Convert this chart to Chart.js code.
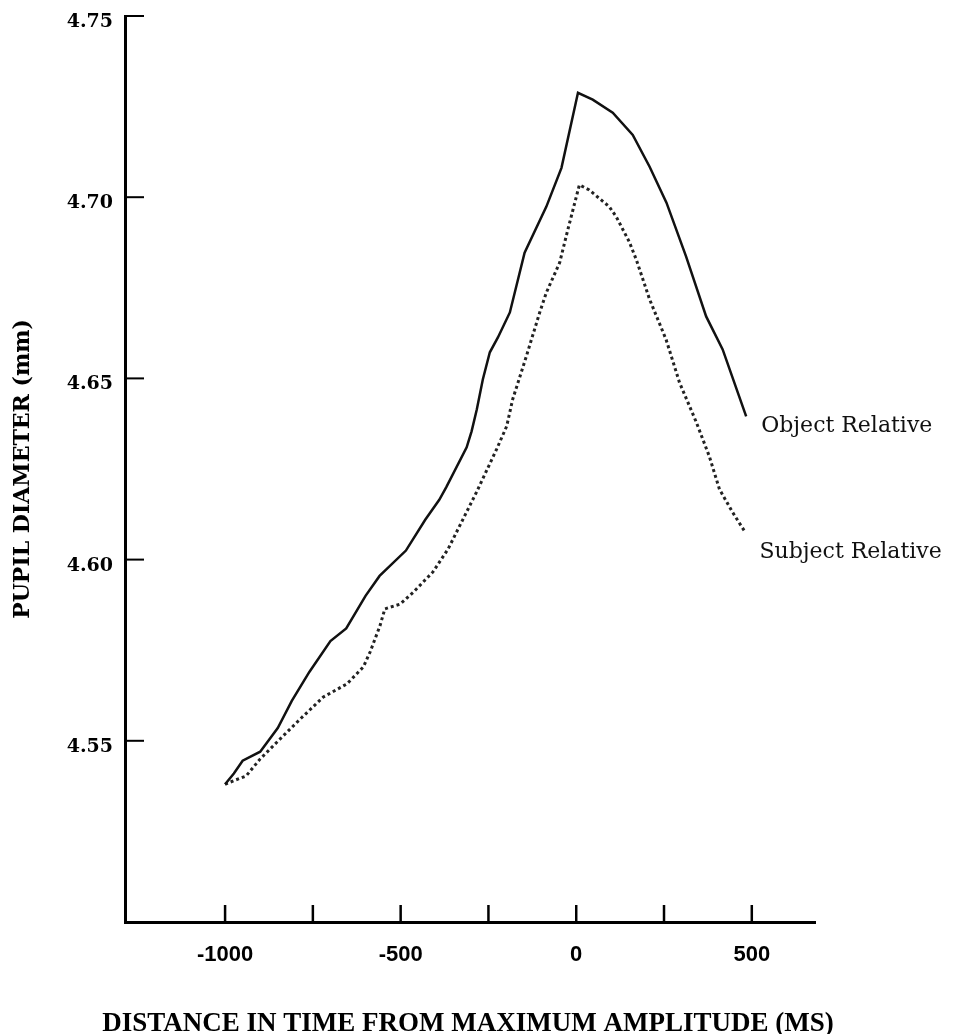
<!DOCTYPE html>
<html>
    <head>
        <title>Pupil diameter</title>
        <script src="https://cdn.jsdelivr.net/npm/chart.js@4"></script>
        <style>
            html, body
            {
                margin:0;
                padding:0;
                background:#fff;
            }
            #chart-container
            {
                width:955px;
                height:1034px;
            }
        </style>
    </head>
    <body>
    <div id="chart-container">
        <canvas id="myChart" width="955" height="1034"></canvas>
    </div>
        <script>
        // czas od maksimum (ms) i srednica zrenicy (mm)
        let objectX = [-1000, -975, -950, -900, -850, -810, -760, -700, -655, -600, -560, -485, -430, -390, -370, -312, -298, -283, -266, -246, -223, -189, -147, -85, -42, 5, 47, 104, 161, 209, 257, 313, 370, 417, 484];
        let objectY = [4.538, 4.541, 4.5445, 4.547, 4.5535, 4.561, 4.569, 4.5775, 4.581, 4.590, 4.5955, 4.6025, 4.611, 4.6165, 4.620, 4.631, 4.6354, 4.6415, 4.6497, 4.6572, 4.6613, 4.6682, 4.6847, 4.6974, 4.7081, 4.7288, 4.7269, 4.7233, 4.7172, 4.7084, 4.6985, 4.6836, 4.6671, 4.658, 4.6395];
        let subjectX = [-1000, -975, -940, -900, -834, -786, -720, -653, -606, -587, -559, -545, -502, -464, -408, -365, -284, -227, -198, -181, -142, -104, -85, -47, -24, 9, 37, 94, 114, 151, 171, 209, 256, 294, 342, 379, 408, 445, 479];
        let subjectY = [4.538, 4.539, 4.5403, 4.545, 4.5514, 4.556, 4.5621, 4.5657, 4.5704, 4.5745, 4.5817, 4.5864, 4.5877, 4.591, 4.5966, 4.6029, 4.6186, 4.6304, 4.6368, 4.6442, 4.6561, 4.6682, 4.6737, 4.682, 4.691, 4.7034, 4.702, 4.6974, 4.6946, 4.6877, 4.6828, 4.6718, 4.6607, 4.6489, 4.6379, 4.6285, 4.6194, 4.6131, 4.6079];
        let seriesNames = ['Object Relative', 'Subject Relative'];
        let xTicks = [-1000, -750, -500, -250, 0, 250, 500];
        let xLabels = ['-1000', '', '-500', '', '0', '', '500'];
        let yTicks = [4.55, 4.60, 4.65, 4.70, 4.75];
        let yLabels = ['4.55', '4.60', '4.65', '4.70', '4.75'];
        let xTitle = 'DISTANCE IN TIME FROM MAXIMUM AMPLITUDE (MS)';

        function punkty(xs, ys)
        {
            let out = [];
            for(let i = 0; i < xs.length; i++)
            {
                out.push({x: xs[i], y: ys[i]});
            }
            return out;
        }

        // kreski podzialki do srodka wykresu + podpisy serii + tytul osi x
        const dodatki = {
            id: 'dodatki',
            afterDraw(chart)
            {
                const ctx = chart.ctx;
                const xs = chart.scales.x;
                const ys = chart.scales.y;
                const area = chart.chartArea;
                ctx.save();
                ctx.strokeStyle = '#000';
                ctx.lineWidth = 2.5;
                xs.ticks.forEach(t => {
                    let px = xs.getPixelForValue(t.value);
                    ctx.beginPath();
                    ctx.moveTo(px, area.bottom);
                    ctx.lineTo(px, area.bottom - 17);
                    ctx.stroke();
                });
                ctx.lineWidth = 2;
                ys.ticks.forEach(t => {
                    let py = ys.getPixelForValue(t.value);
                    ctx.beginPath();
                    ctx.moveTo(area.left, py);
                    ctx.lineTo(area.left + 19, py);
                    ctx.stroke();
                });
                const przes = [10, 21];
                ctx.fillStyle = '#111';
                ctx.font = '22px "DejaVu Serif"';
                ctx.textAlign = 'left';
                ctx.textBaseline = 'middle';
                chart.data.datasets.forEach((ds, i) => {
                    let last = ds.data[ds.data.length - 1];
                    let px = xs.getPixelForValue(last.x) + 15;
                    let py = ys.getPixelForValue(last.y) + przes[i];
                    ctx.fillText(seriesNames[i], px, py);
                });
                // tytul jest szerszy niz os, wiec rysowany recznie
                ctx.fillStyle = '#000';
                ctx.font = 'bold 27px "Liberation Serif"';
                ctx.textAlign = 'center';
                ctx.textBaseline = 'alphabetic';
                ctx.fillText(xTitle, (area.left + area.right) / 2 - 2, chart.height - 3);
                ctx.restore();
            }
        };

        function bezMarginesu(s)
        {
            s.paddingTop = 0;
            s.paddingBottom = 0;
            s.paddingLeft = 0;
            s.paddingRight = 0;
        }

        var ctx = document.getElementById('myChart').getContext('2d');
        var myChart = new Chart(ctx, {
            type: 'line',
            data: {
                datasets: [{
                    label: seriesNames[0],
                    data: punkty(objectX, objectY),
                    borderColor: '#111',
                    borderWidth: 2.5,
                    fill: false,
                    pointRadius: 0,
                    tension: 0
                }, {
                    label: seriesNames[1],
                    data: punkty(subjectX, subjectY),
                    borderColor: '#222',
                    borderWidth: 3,
                    borderDash: [3, 3],
                    fill: false,
                    pointRadius: 0,
                    tension: 0
                }]
            },
            options: {
                responsive: false,
                animation: false,
                layout: {
                    padding: {top: 16, right: 140, left: 0, bottom: 0}
                },
                plugins: {
                    legend: {display: false},
                    tooltip: {enabled: false}
                },
                scales: {
                    x: {
                        type: 'linear',
                        min: -1285,
                        max: 680,
                        afterFit: function(s) { s.height = 112; bezMarginesu(s); },
                        afterBuildTicks: function(s) {
                            s.ticks = xTicks.map(v => ({value: v}));
                        },
                        grid: {display: false, drawTicks: false},
                        border: {display: true, color: '#000', width: 3},
                        ticks: {
                            padding: 20,
                            color: '#000',
                            maxRotation: 0,
                            autoSkip: false,
                            font: {family: '"Liberation Sans"', size: 22, weight: 'bold'},
                            callback: function(val, index) {
                                return xLabels[index];
                            }
                        },
                        title: {display: false}
                    },
                    y: {
                        min: 4.50,
                        max: 4.75,
                        afterFit: function(s) { s.width = 125; bezMarginesu(s); },
                        afterBuildTicks: function(s) {
                            s.ticks = yTicks.map(v => ({value: v}));
                        },
                        grid: {display: false, drawTicks: false},
                        border: {display: true, color: '#000', width: 3},
                        ticks: {
                            padding: 12,
                            labelOffset: 6,
                            color: '#000',
                            autoSkip: false,
                            font: {family: '"DejaVu Serif"', size: 19, weight: 'bold'},
                            callback: function(val, index) {
                                return yLabels[index];
                            }
                        },
                        title: {
                            display: true,
                            text: 'PUPIL DIAMETER (mm)',
                            color: '#000',
                            font: {family: '"DejaVu Serif"', size: 22, weight: 'bold'},
                            padding: {top: 10, bottom: 0}
                        }
                    }
                }
            },
            plugins: [dodatki]
        });
        </script>
    </body>
</html>
